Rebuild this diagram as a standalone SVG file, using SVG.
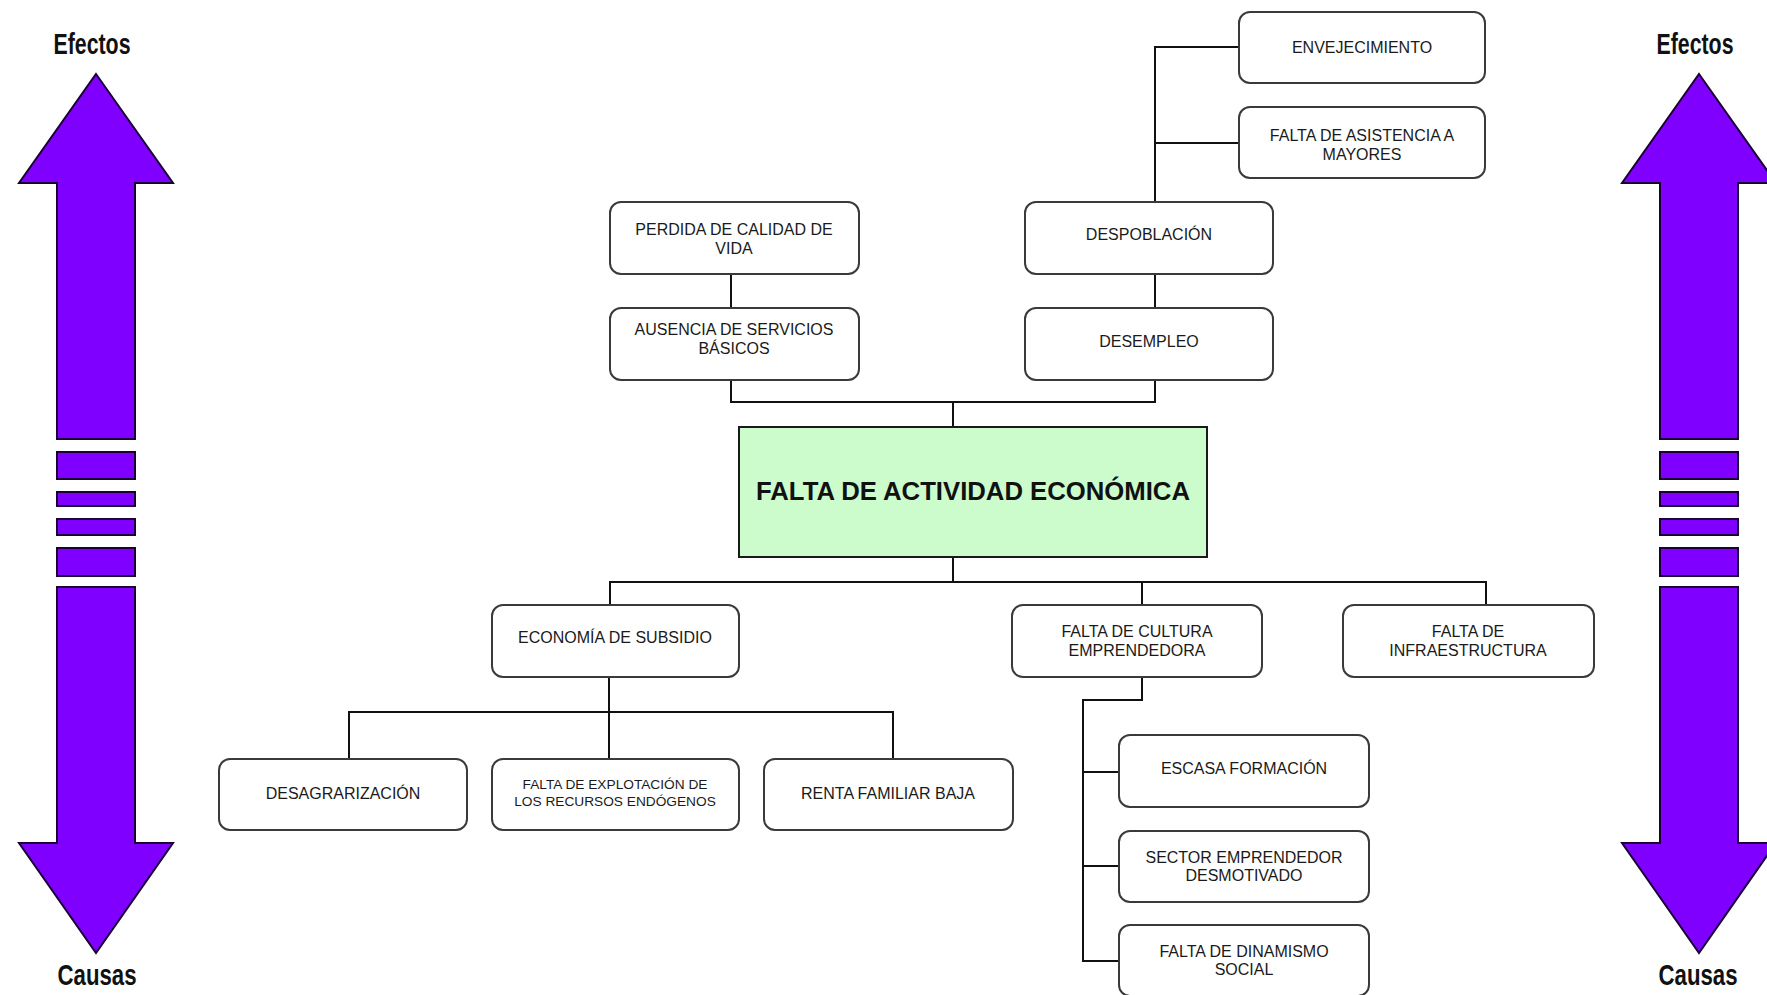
<svg xmlns="http://www.w3.org/2000/svg" width="1767" height="995" viewBox="0 0 1767 995">
<style>
.bg{fill:#ffffff}
.arrow{fill:#7f00ff;stroke:#1a0033;stroke-width:2}
.side{font-family:"Liberation Sans Narrow","Liberation Sans",Arial,sans-serif;font-weight:bold;font-size:30px;fill:#111;text-anchor:middle}
.box{fill:#ffffff;stroke:#3a3a3a;stroke-width:2}
.core{fill:#ccfccc;stroke:#1a1a1a;stroke-width:2}
.t{font-family:"Liberation Sans",Arial,sans-serif;font-size:16px;fill:#1a1a1a;text-anchor:middle}
.ts{font-family:"Liberation Sans",Arial,sans-serif;font-size:13.7px;fill:#1a1a1a;text-anchor:middle}
.tc{font-family:"Liberation Sans",Arial,sans-serif;font-size:25px;font-weight:bold;fill:#111;text-anchor:middle}
.conn{fill:none;stroke:#111;stroke-width:2}
</style>
<rect class="bg" x="0" y="0" width="1767" height="995"/>

<g id="arrow-left">
<path class="arrow" d="M96,74 L173,183 L135,183 L135,439 L57,439 L57,183 L19,183 Z"/>
<rect class="arrow" x="57" y="452" width="78" height="27"/>
<rect class="arrow" x="57" y="492" width="78" height="14"/>
<rect class="arrow" x="57" y="519" width="78" height="16"/>
<rect class="arrow" x="57" y="548" width="78" height="28"/>
<path class="arrow" d="M57,587 L135,587 L135,843 L173,843 L96,953 L19,843 L57,843 Z"/>
<text class="side" x="92" y="54" textLength="77" lengthAdjust="spacingAndGlyphs">Efectos</text>
<text class="side" x="97" y="985" textLength="79" lengthAdjust="spacingAndGlyphs">Causas</text>
</g>

<g id="arrow-right">
<path class="arrow" d="M1699,74 L1776,183 L1738,183 L1738,439 L1660,439 L1660,183 L1622,183 Z"/>
<rect class="arrow" x="1660" y="452" width="78" height="27"/>
<rect class="arrow" x="1660" y="492" width="78" height="14"/>
<rect class="arrow" x="1660" y="519" width="78" height="16"/>
<rect class="arrow" x="1660" y="548" width="78" height="28"/>
<path class="arrow" d="M1660,587 L1738,587 L1738,843 L1776,843 L1699,953 L1622,843 L1660,843 Z"/>
<text class="side" x="1695" y="54" textLength="77" lengthAdjust="spacingAndGlyphs">Efectos</text>
<text class="side" x="1698" y="985" textLength="79" lengthAdjust="spacingAndGlyphs">Causas</text>
</g>

<g id="connectors">
<path class="conn" d="M1155,202 V47 H1239"/>
<path class="conn" d="M1155,143 H1239"/>
<path class="conn" d="M1155,274 V308"/>
<path class="conn" d="M731,274 V308"/>
<path class="conn" d="M731,380 V402 H1155 V380"/>
<path class="conn" d="M953,402 V427"/>
<path class="conn" d="M953,557 V582"/>
<path class="conn" d="M610,605 V582 H1486 V605"/>
<path class="conn" d="M1142,582 V605"/>
<path class="conn" d="M609,677 V759"/>
<path class="conn" d="M349,759 V712 H893 V759"/>
<path class="conn" d="M1142,677 V700 H1083 V961 H1119"/>
<path class="conn" d="M1083,772 H1119"/>
<path class="conn" d="M1083,866 H1119"/>
</g>

<g id="envejecimiento">
<rect class="box" x="1239" y="12" width="246" height="71" rx="11"/>
<text class="t" x="1362" y="53">ENVEJECIMIENTO</text>
</g>
<g id="falta-asistencia">
<rect class="box" x="1239" y="107" width="246" height="71" rx="11"/>
<text class="t" x="1362" y="141">FALTA DE ASISTENCIA A</text>
<text class="t" x="1362" y="160">MAYORES</text>
</g>
<g id="perdida-calidad">
<rect class="box" x="610" y="202" width="249" height="72" rx="11"/>
<text class="t" x="734" y="235">PERDIDA DE CALIDAD DE</text>
<text class="t" x="734" y="254">VIDA</text>
</g>
<g id="ausencia-servicios">
<rect class="box" x="610" y="308" width="249" height="72" rx="11"/>
<text class="t" x="734" y="335">AUSENCIA DE SERVICIOS</text>
<text class="t" x="734" y="354">BÁSICOS</text>
</g>
<g id="despoblacion">
<rect class="box" x="1025" y="202" width="248" height="72" rx="11"/>
<text class="t" x="1149" y="240">DESPOBLACIÓN</text>
</g>
<g id="desempleo">
<rect class="box" x="1025" y="308" width="248" height="72" rx="11"/>
<text class="t" x="1149" y="347">DESEMPLEO</text>
</g>
<g id="falta-actividad">
<rect class="core" x="739" y="427" width="468" height="130"/>
<text class="tc" x="973" y="500" textLength="434" lengthAdjust="spacingAndGlyphs">FALTA DE ACTIVIDAD ECONÓMICA</text>
</g>
<g id="economia-subsidio">
<rect class="box" x="492" y="605" width="247" height="72" rx="11"/>
<text class="t" x="615" y="643">ECONOMÍA DE SUBSIDIO</text>
</g>
<g id="falta-cultura">
<rect class="box" x="1012" y="605" width="250" height="72" rx="11"/>
<text class="t" x="1137" y="637">FALTA DE CULTURA</text>
<text class="t" x="1137" y="656">EMPRENDEDORA</text>
</g>
<g id="falta-infraestructura">
<rect class="box" x="1343" y="605" width="251" height="72" rx="11"/>
<text class="t" x="1468" y="637">FALTA DE</text>
<text class="t" x="1468" y="656">INFRAESTRUCTURA</text>
</g>
<g id="desagrarizacion">
<rect class="box" x="219" y="759" width="248" height="71" rx="11"/>
<text class="t" x="343" y="799">DESAGRARIZACIÓN</text>
</g>
<g id="falta-explotacion">
<rect class="box" x="492" y="759" width="247" height="71" rx="11"/>
<text class="ts" x="615" y="789">FALTA DE EXPLOTACIÓN DE</text>
<text class="ts" x="615" y="806">LOS RECURSOS ENDÓGENOS</text>
</g>
<g id="renta-familiar">
<rect class="box" x="764" y="759" width="249" height="71" rx="11"/>
<text class="t" x="888" y="799">RENTA FAMILIAR BAJA</text>
</g>
<g id="escasa-formacion">
<rect class="box" x="1119" y="735" width="250" height="72" rx="11"/>
<text class="t" x="1244" y="774">ESCASA FORMACIÓN</text>
</g>
<g id="sector-emprendedor">
<rect class="box" x="1119" y="831" width="250" height="71" rx="11"/>
<text class="t" x="1244" y="863">SECTOR EMPRENDEDOR</text>
<text class="t" x="1244" y="881">DESMOTIVADO</text>
</g>
<g id="falta-dinamismo">
<rect class="box" x="1119" y="925" width="250" height="71" rx="11"/>
<text class="t" x="1244" y="957">FALTA DE DINAMISMO</text>
<text class="t" x="1244" y="975">SOCIAL</text>
</g>
</svg>
